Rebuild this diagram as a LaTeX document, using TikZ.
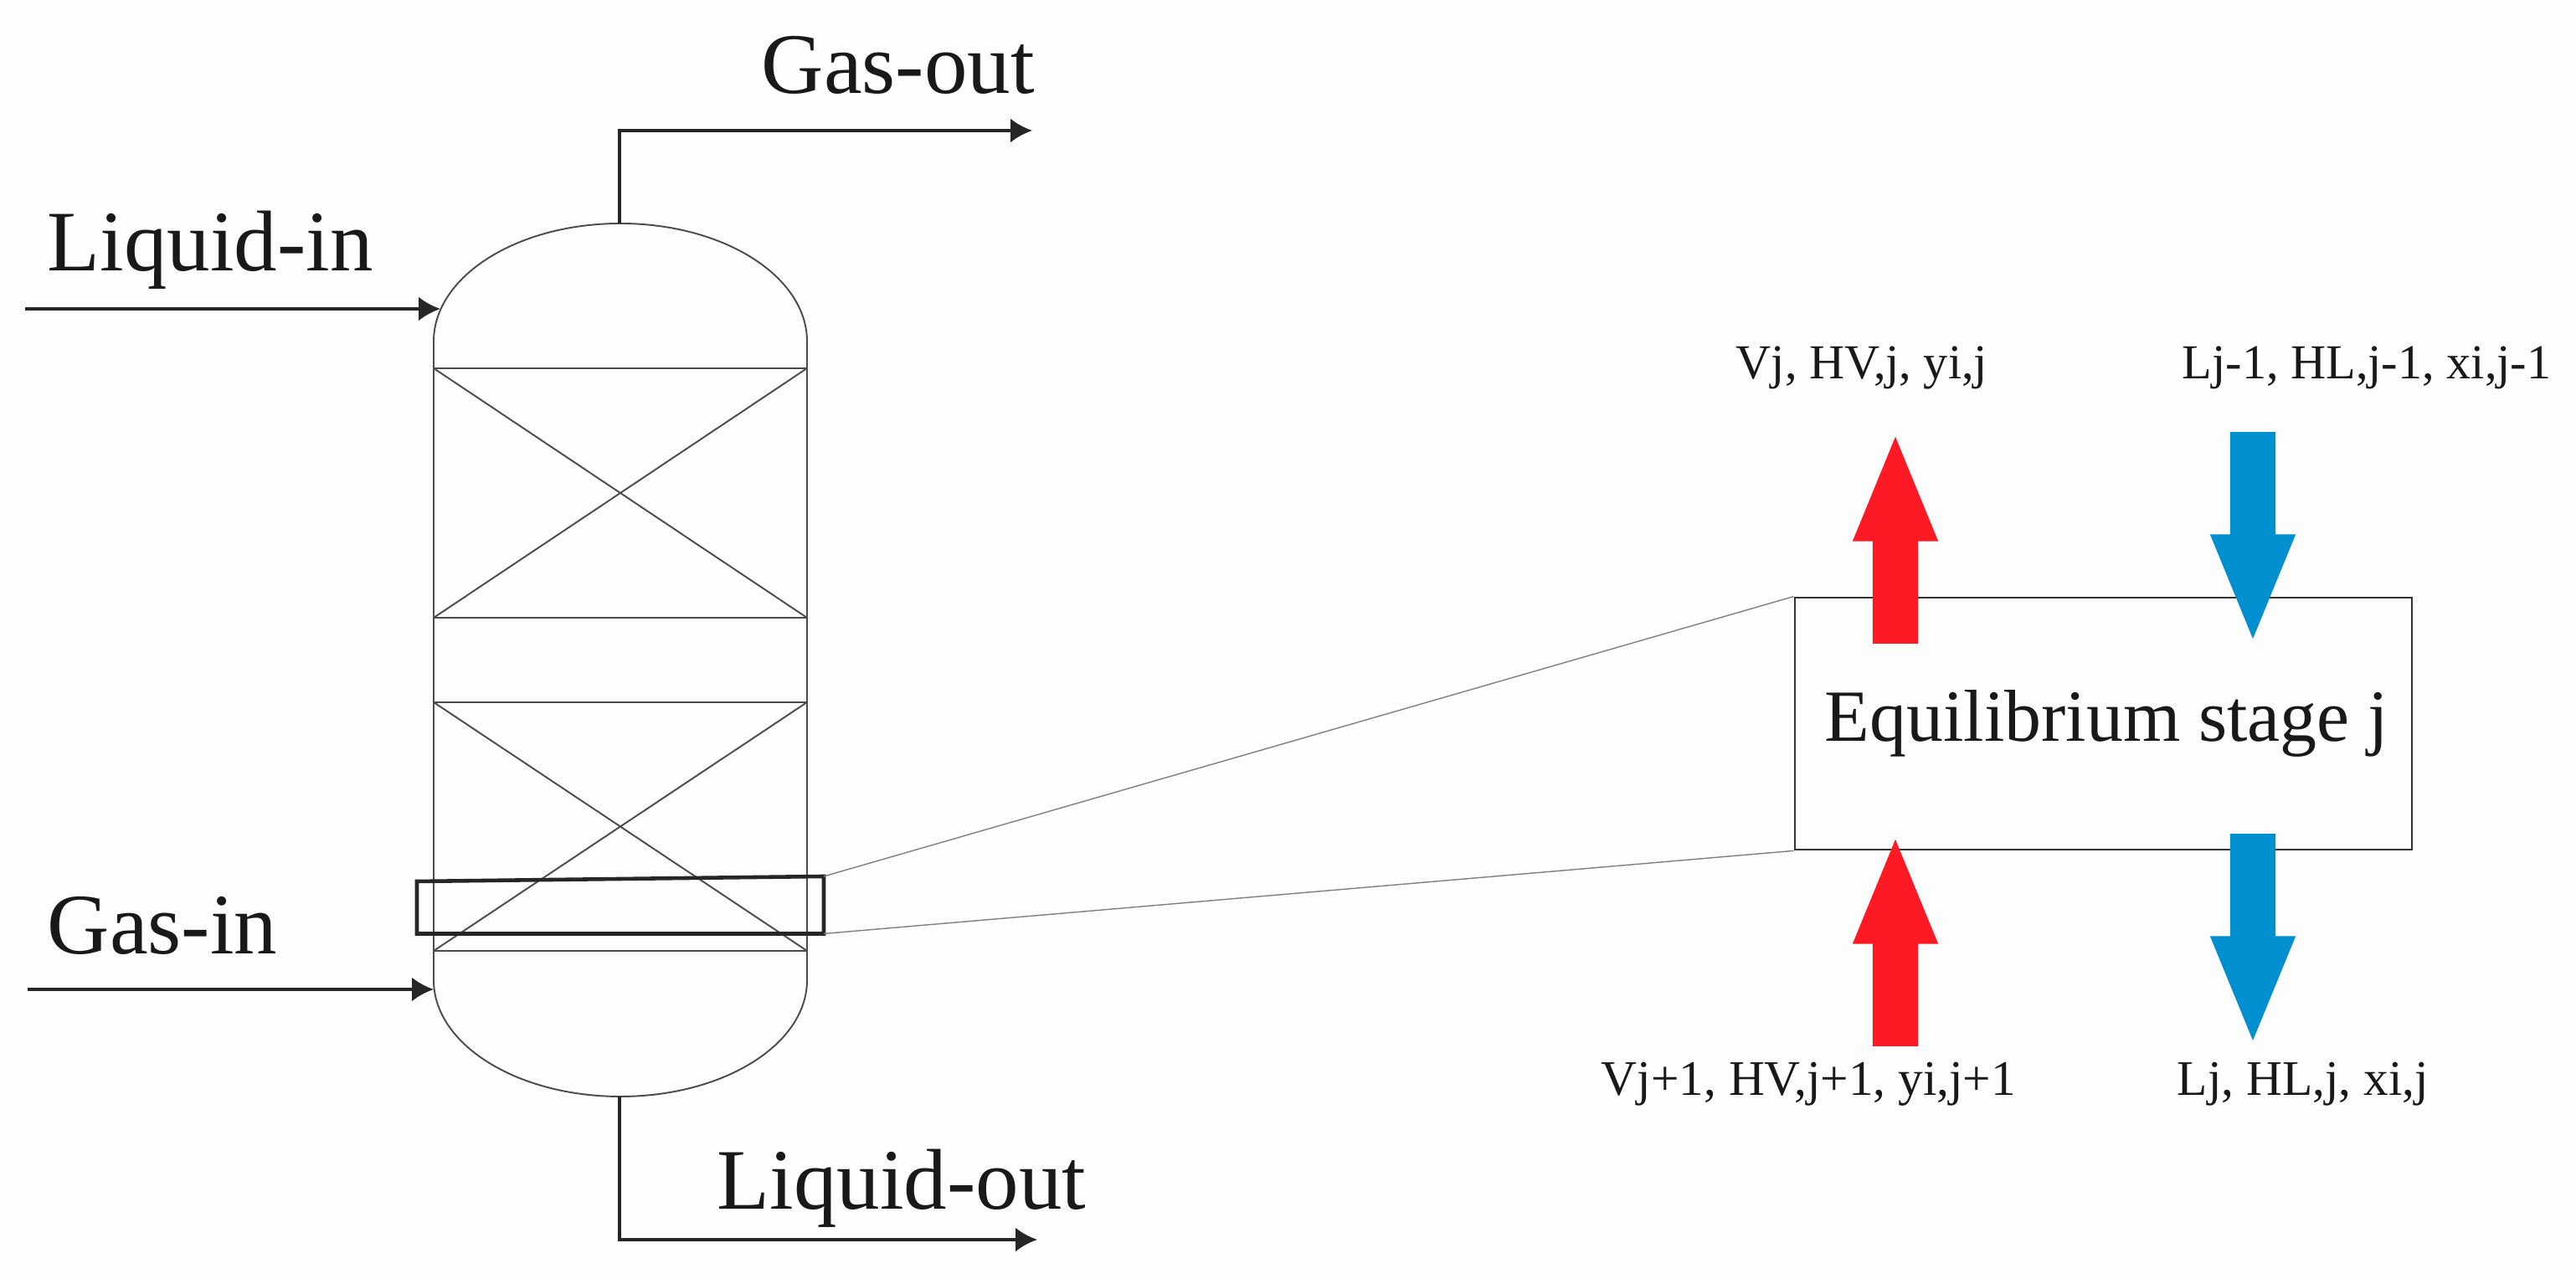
\documentclass[tikz,border=0pt]{standalone}
\usepackage{fontspec}
\setmainfont{Liberation Serif}
\usepackage{tikz}
\usetikzlibrary{shapes,arrows,arrows.meta}
\definecolor{redflow}{RGB}{254,26,36}
\definecolor{blueflow}{RGB}{0,144,208}
\definecolor{page}{RGB}{253,253,253}
\tikzstyle{line} = [draw, -{Latex[length=2.6mm,width=2.9mm]}, color=black!85, line width=1.1pt]
\tikzstyle{vessel} = [draw, color=black!70, line width=0.55pt]
\tikzstyle{zoomline} = [draw, color=black!50, line width=0.4pt]
\tikzstyle{bigtext} = [anchor=base west, inner sep=0, font=\fontsize{29.3}{32}\selectfont, text=black!90]
\tikzstyle{smalltext} = [anchor=base west, inner sep=0, font=\fontsize{16.6}{18}\selectfont, text=black!90]
\tikzstyle{stream} = [single arrow, draw=none, inner sep=0.265cm, minimum height=2.47cm,
minimum width=1.01cm, single arrow head extend=0.24cm, single arrow tip angle=44.6, anchor=tip]

\begin{document}
\begin{tikzpicture}[auto,
	up/.style={stream, fill=redflow, shape border rotate=90},
	down/.style={stream, fill=blueflow, shape border rotate=270}]
	\fill[page] (0,0) rectangle (30.77,15.28);
	\useasboundingbox (0,0) rectangle (30.77,15.28);
	%% Column
	\coordinate (topL) at (5.18,11.20);
	\coordinate (topR) at (9.64,11.20);
	\coordinate (botL) at (5.18,3.57);
	\coordinate (botR) at (9.64,3.57);
	\coordinate (dometop) at (7.40,12.61);
	\coordinate (domebot) at (7.40,2.18);
	\path [vessel] (botL) -- (topL) arc [x radius=2.23, y radius=1.41, start angle=180, end angle=0]
		-- (botR) arc [x radius=2.23, y radius=1.39, start angle=0, end angle=-180];
	%% Packing
	\foreach \ya/\yb/\name in {10.88/7.90/a, 6.89/3.92/b} {
		\coordinate (\name NW) at (5.18,\ya);
		\coordinate (\name NE) at (9.64,\ya);
		\coordinate (\name SW) at (5.18,\yb);
		\coordinate (\name SE) at (9.64,\yb);
		\path [vessel] (\name NW) -- (\name NE) (\name SW) -- (\name SE);
		\path [vessel] (\name NW) -- (\name SE) (\name SW) -- (\name NE);
	}
	%% Stage
	\node[draw, color=black!80, line width=0.8pt, minimum width=7.37cm, minimum height=3.01cm,
		text=black!90, font=\fontsize{25}{28}\selectfont] (stage) at (25.125,6.635)
		{\raisebox{-0.04cm}{\hspace{0.08cm}Equilibrium stage j}};
	%% Window
	\coordinate (winTL) at (4.98,4.75);
	\coordinate (winTR) at (9.84,4.81);
	\coordinate (winBR) at (9.84,4.125);
	\coordinate (winBL) at (4.98,4.125);
	\draw[black!85, line width=1.3pt] (winTL) -- (winTR) -- (winBR) -- (winBL) -- cycle;
	\path [zoomline] (winTR) -- (stage.north west);
	\path [zoomline] (winBR) -- (stage.south west);
	%% Flows
	\coordinate (gasoutend) at (12.33,13.72);
	\coordinate (liqoutend) at (12.39,0.47);
	\coordinate (liqinstart) at (0.30,11.59);
	\coordinate (liqinend) at (5.26,11.59);
	\coordinate (gasinstart) at (0.33,3.46);
	\coordinate (gasinend) at (5.18,3.46);
	\path [line] (dometop) |- (gasoutend);
	\path [line] (domebot) |- (liqoutend);
	\path [line] (liqinstart) -- (liqinend);
	\path [line] (gasinstart) -- (gasinend);
	\node[up] (vout) at (22.64,10.08) {};
	\node[down] (lin) at (26.91,7.63) {};
	\node[up] (vin) at (22.64,5.27) {};
	\node[down] (lout) at (26.91,2.83) {};
	%% Labels
	\node[bigtext] (gasout) at (9.09,14.16) {Gas-out};
	\node[bigtext] (liqin) at (0.56,12.04) {Liquid-in};
	\node[bigtext] (gasin) at (0.56,3.88) {Gas-in};
	\node[bigtext] (liqout) at (8.56,0.83) {Liquid-out};
	\node[smalltext] (voutlab) at (20.73,10.75) {Vj, HV,j, yi,j};
	\node[smalltext] (linlab) at (26.06,10.75) {Lj-1, HL,j-1, xi,j-1};
	\node[smalltext, font=\fontsize{16.9}{18}\selectfont] (vinlab) at (19.12,2.19) {Vj+1, HV,j+1, yi,j+1};
	\node[smalltext, font=\fontsize{16.9}{18}\selectfont] (loutlab) at (26.0,2.19) {Lj, HL,j, xi,j};
\end{tikzpicture}
\end{document}
